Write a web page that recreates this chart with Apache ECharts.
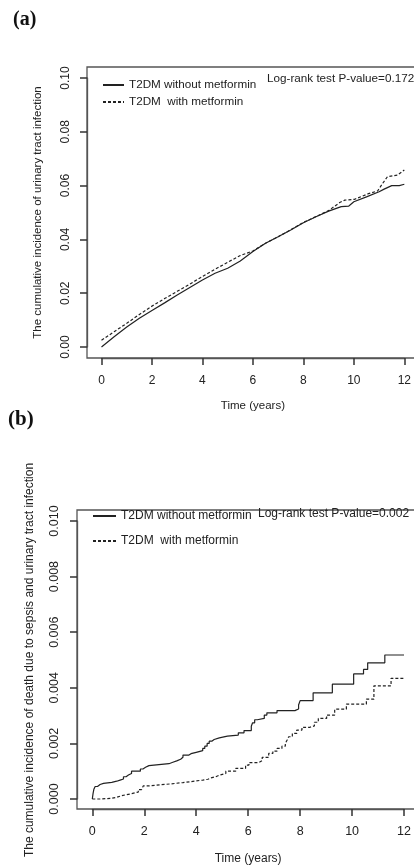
<!DOCTYPE html>
<html>
<head>
<meta charset="utf-8">
<script src="https://cdn.jsdelivr.net/npm/echarts@6/dist/echarts.min.js"></script>
<style>
  html, body { margin: 0; padding: 0; background: #fff; }
  #chart { width: 414px; height: 868px; }
</style>
</head>
<body>
<div id="chart"></div>
<script>
var nameWithout = 'T2DM without metformin';
var nameWith = 'T2DM  with metformin';

// (a) cumulative incidence of urinary tract infection, [years, incidence]
var utiWithout = [
  [0, 0], [0.5, 0.0038], [1.0, 0.0074], [1.5, 0.0107], [2.0, 0.0136],
  [2.5, 0.0164], [3.0, 0.0193], [3.5, 0.0221], [4.0, 0.0249], [4.5, 0.0274],
  [5.0, 0.0293], [5.5, 0.0320], [6.0, 0.0355], [6.5, 0.0386], [7.0, 0.0410],
  [7.5, 0.0435], [8.0, 0.0462], [8.5, 0.0484], [9.0, 0.0505], [9.5, 0.0522],
  [9.8, 0.0524], [10.0, 0.0540], [10.5, 0.0558], [11.0, 0.0577], [11.2, 0.0587],
  [11.5, 0.0600], [11.8, 0.0600], [12.0, 0.0605]
];
var utiWith = [
  [0, 0.0025], [0.5, 0.0057], [1.0, 0.0088], [1.5, 0.0121], [2.0, 0.0152],
  [2.5, 0.0180], [3.0, 0.0207], [3.5, 0.0234], [4.0, 0.0262], [4.5, 0.0289],
  [5.0, 0.0315], [5.5, 0.0340], [6.0, 0.0357], [6.5, 0.0386], [7.0, 0.0410],
  [7.5, 0.0436], [8.0, 0.0463], [8.5, 0.0485], [9.0, 0.0507], [9.44, 0.0537],
  [9.64, 0.0546], [10.03, 0.0549], [10.55, 0.0569], [10.94, 0.0580], [11.14, 0.0608],
  [11.33, 0.0633], [11.73, 0.0639], [12.0, 0.0658]
];

// (b) cumulative incidence of death due to sepsis and UTI, [jump time, value after jump]
var deathWithout = [
  [0, 0], [0.03, 0.0002], [0.06, 0.00035], [0.11, 0.00045], [0.2, 0.00052],
  [0.3, 0.00056], [0.43, 0.0006], [0.75, 0.00064], [0.94, 0.00068], [1.07, 0.00072],
  [1.2, 0.0008], [1.3, 0.00086], [1.39, 0.00092], [1.51, 0.001], [1.85, 0.00108],
  [1.95, 0.00114], [2.05, 0.0012], [2.18, 0.00127], [2.95, 0.00132], [3.1, 0.00137],
  [3.25, 0.00143], [3.4, 0.0015], [3.49, 0.00158], [3.72, 0.00163], [3.8, 0.00168],
  [4.0, 0.00174], [4.25, 0.00182], [4.33, 0.0019], [4.42, 0.002], [4.5, 0.00208],
  [4.6, 0.00214], [4.69, 0.0022], [4.89, 0.00226], [5.2, 0.0023], [5.62, 0.00238],
  [5.84, 0.00246], [6.12, 0.00262], [6.17, 0.00274], [6.25, 0.00285], [6.35, 0.0029],
  [6.62, 0.00302], [6.72, 0.0031], [7.11, 0.00318], [7.8, 0.00324], [7.94, 0.00338],
  [8.0, 0.00354], [8.5, 0.00382], [9.24, 0.00413], [10.06, 0.0045], [10.44, 0.00466],
  [10.6, 0.0049], [11.26, 0.00518], [12.0, 0.00518]
];
var deathWith = [
  [0, 0], [0.3, 0.00002], [0.69, 0.00006], [0.94, 0.00012], [1.13, 0.00018],
  [1.45, 0.00025], [1.77, 0.00034], [1.9, 0.0004], [1.96, 0.00047], [2.15, 0.00054],
  [2.98, 0.00059], [3.49, 0.00065], [4.0, 0.00068], [4.25, 0.00071], [4.45, 0.00076],
  [4.57, 0.0008], [4.75, 0.00086], [4.89, 0.00092], [5.14, 0.001], [5.52, 0.0011],
  [5.9, 0.00122], [6.03, 0.00131], [6.41, 0.00138], [6.54, 0.0015], [6.79, 0.00164],
  [6.95, 0.00172], [7.11, 0.00182], [7.3, 0.0019], [7.43, 0.002], [7.5, 0.00212],
  [7.56, 0.00224], [7.7, 0.00236], [7.87, 0.00248], [8.07, 0.00258], [8.38, 0.00263],
  [8.55, 0.00276], [8.7, 0.0029], [9.02, 0.00302], [9.33, 0.00323], [9.78, 0.00341],
  [10.55, 0.00359], [10.84, 0.00407], [11.5, 0.00434], [12.0, 0.00434]
];

var font = 'Liberation Sans, Arial, sans-serif';
var ink = '#222';
var frame = '#555';

// R style axes: drawn from first to last tick, pushed out of the data region by `offset`
function xAxisFor(idx, offset, margin, gap, fs) {
  return {
    gridIndex: idx, type: 'value', min: 0, max: 12, interval: 2, offset: offset,
    axisLine: { show: true, onZero: false, lineStyle: { color: frame, width: 1.3 } },
    splitLine: { show: false },
    axisTick: { show: true, length: 7, lineStyle: { color: '#333', width: 1.5 } },
    axisLabel: { margin: margin, fontFamily: font, fontSize: fs, color: ink },
    name: 'Time (years)', nameLocation: 'middle', nameGap: gap,
    nameTextStyle: { fontFamily: font, fontSize: fs - 0.5, color: ink }
  };
}

function yAxisFor(idx, max, step, digits, title, offset, margin, gap, fs) {
  return {
    gridIndex: idx, type: 'value', min: 0, max: max, interval: step, offset: offset,
    axisLine: { show: true, onZero: false, lineStyle: { color: frame, width: 1.3 } },
    splitLine: { show: false },
    axisTick: { show: true, length: 7, lineStyle: { color: '#333', width: 1.5 } },
    axisLabel: {
      rotate: 90, margin: margin, showMinLabel: true, showMaxLabel: true,
      fontFamily: font, fontSize: fs, color: ink,
      formatter: function (v) { return v.toFixed(digits); }
    },
    name: title, nameLocation: 'middle', nameGap: gap, nameRotate: 90,
    nameTextStyle: { fontFamily: font, fontSize: fs - 0.5, color: ink }
  };
}

function curve(name, data, xi, dashed, step) {
  return {
    name: name, type: 'line', xAxisIndex: xi, yAxisIndex: xi,
    data: data, step: step ? 'end' : false, clip: false,
    showSymbol: false, symbol: 'none', animation: false,
    itemStyle: { color: ink },
    lineStyle: { color: ink, width: 1.2, type: dashed ? [3, 2] : 'solid' }
  };
}

var chart = echarts.init(document.getElementById('chart'));
chart.setOption({
  animation: false,
  grid: [
    { left: 101.5, top: 78, width: 305.3, height: 269 },
    { left: 92.3, top: 521, width: 314, height: 278 }
  ],
  xAxis: [
    xAxisFor(0, 11, 17, 42, 12),
    xAxisFor(1, 10, 16, 44, 12.5)
  ],
  yAxis: [
    yAxisFor(0, 0.1, 0.02, 2, 'The cumulative incidence of urinary tract infection', 14.5, 15, 43, 12),
    yAxisFor(1, 0.01, 0.002, 3,
      'The cumulative incidence of death due to sepsis and urinary tract infection', 15.3, 16, 41, 12.5)
  ],
  legend: [
    {
      data: [nameWithout, nameWith], orient: 'vertical', left: 97, top: 73,
      itemWidth: 21, itemHeight: 14, itemGap: 3, selectedMode: false,
      itemStyle: { opacity: 0, borderWidth: 0 },
      textStyle: { fontFamily: font, fontSize: 11.7, color: ink, lineHeight: 14 }
    },
    {
      data: [nameWithout, nameWith], orient: 'vertical', left: 87, top: 504,
      itemWidth: 23, itemHeight: 14, itemGap: 11, selectedMode: false,
      itemStyle: { opacity: 0, borderWidth: 0 },
      textStyle: { fontFamily: font, fontSize: 12, color: ink, lineHeight: 14 }
    }
  ],
  graphic: [
    // plot frames (R box), running off the page on the right like the original
    { type: 'rect', z: 0, shape: { x: 87, y: 67, width: 340, height: 291 },
      style: { fill: 'none', stroke: frame, lineWidth: 1.3 } },
    { type: 'rect', z: 0, shape: { x: 77, y: 510, width: 350, height: 299 },
      style: { fill: 'none', stroke: frame, lineWidth: 1.3 } },
    { type: 'text', left: 13, top: 10, style: { text: '(a)', font: 'bold 20px "Liberation Serif", serif', fill: '#111' } },
    { type: 'text', left: 8, top: 409, style: { text: '(b)', font: 'bold 21px "Liberation Serif", serif', fill: '#111' } },
    { type: 'text', left: 267, top: 73, style: { text: 'Log-rank test P-value=0.172', font: '11.7px "Liberation Sans", Arial, sans-serif', fill: ink } },
    { type: 'text', left: 258, top: 508, style: { text: 'Log-rank test P-value=0.002', font: '12px "Liberation Sans", Arial, sans-serif', fill: ink } }
  ],
  series: [
    curve(nameWithout, utiWithout, 0, false, false),
    curve(nameWith, utiWith, 0, true, false),
    curve(nameWithout, deathWithout, 1, false, true),
    curve(nameWith, deathWith, 1, true, true)
  ]
});
</script>
</body>
</html>
